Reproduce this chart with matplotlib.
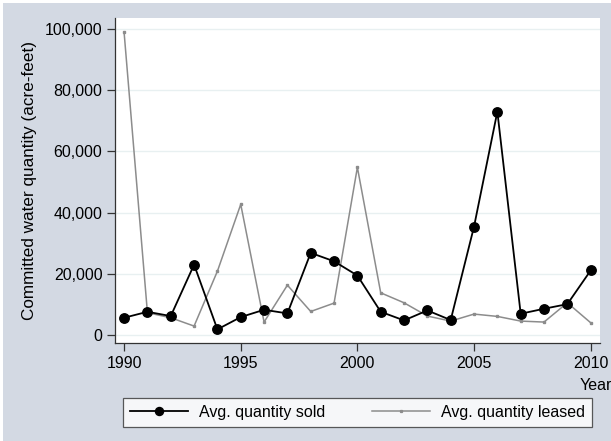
import numpy as np
import matplotlib
matplotlib.use("Agg")
import matplotlib.pyplot as plt
from matplotlib.patches import Rectangle
from matplotlib.ticker import FuncFormatter

plt.rcParams["font.family"] = ["Liberation Sans", "DejaVu Sans"]

years = list(range(1990, 2011))
avg_sold = [5650, 7600, 6200, 23000, 1850, 5870, 8260, 7070, 26850, 24100, 19450,
            7600, 4780, 8040, 4900, 35430, 73000, 6960, 8590, 10100, 21100]
avg_leased = [98900, 7300, 5650, 2930, 20870, 42700, 4240, 16300, 7700, 10430, 54800,
              13800, 10540, 6200, 4560, 6850, 6090, 4560, 4240, 10540, 4020]

W, H = 611, 441
bg = "#d3d9e3"
fig = plt.figure(figsize=(W / 100, H / 100), dpi=100, facecolor="white")
# graph region with a thin white margin at top/left
fig.patches.append(Rectangle((3 / W, 0), 1, 1 - 3 / H, transform=fig.transFigure,
                             facecolor=bg, edgecolor="none", zorder=-10))

ax = fig.add_axes([115 / W, 1 - 343 / H, (600 - 115) / W, (343 - 18) / H])
ax.set_facecolor("white")

ax.plot(years, avg_sold, color="black", lw=1.3, marker="o", ms=6.8,
        label="Avg. quantity sold", zorder=3)
ax.plot(years, avg_leased, color="#8c8c8c", lw=1.1, marker="s", ms=1.6,
        label="Avg. quantity leased", zorder=2)

ax.set_xlim(1989.61, 2010.4)
ax.set_ylim(-2600, 103600)
ax.set_xticks([1990, 1995, 2000, 2005, 2010])
ax.set_yticks([0, 20000, 40000, 60000, 80000, 100000])
ax.yaxis.set_major_formatter(FuncFormatter(lambda v, p: f"{int(v):,}"))
ax.grid(axis="y", color="#e8f0f1", lw=1.0)
ax.set_axisbelow(True)

for s in ["top", "right"]:
    ax.spines[s].set_visible(False)
for s in ["left", "bottom"]:
    ax.spines[s].set_color("#333333")
    ax.spines[s].set_linewidth(0.9)
ax.tick_params(direction="out", length=6, width=0.9, color="#333333",
               labelsize=11.5, pad=3)

ax.set_ylabel("Committed water quantity (acre-feet)", fontsize=12.3, labelpad=6)
fig.text(612 / W, 1 - 385 / H, "Year", ha="right", va="center", fontsize=11.5)

handles, labels = ax.get_legend_handles_labels()
leg = fig.legend(handles, labels, ncol=2, loc="lower left",
                 bbox_to_anchor=(123 / W, 1 - 427 / H, (592 - 123) / W, 31 / H),
                 mode="expand", fontsize=11.5, frameon=True, fancybox=False,
                 borderaxespad=0, handlelength=3.6, markerscale=0.85,
                 handletextpad=0.7, columnspacing=1.0, borderpad=0.45)
leg.get_frame().set_edgecolor("#333333")
leg.get_frame().set_linewidth(0.9)

fig.savefig("out.png", dpi=100, facecolor=fig.get_facecolor())
